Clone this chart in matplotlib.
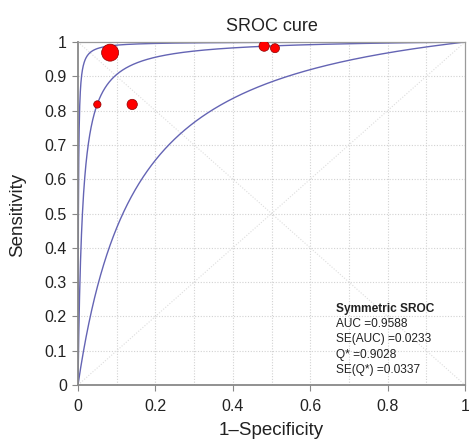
import numpy as np
import matplotlib
matplotlib.use("Agg")
import matplotlib.pyplot as plt

plt.rcParams['font.family'] = ['Liberation Sans', 'DejaVu Sans']

# Data
study_fpr = [0.083, 0.050, 0.140, 0.481, 0.509]
study_sens = [0.969, 0.818, 0.818, 0.988, 0.982]
study_weight = [150, 28, 55, 55, 42]
curve_a = [4.457, 2.03, 6.885]   # logit-scale intercepts (SROC and bounds)
ticks = [0, 0.1, 0.2, 0.3, 0.4, 0.5, 0.6, 0.7, 0.8, 0.9, 1]
xticks = [0, 0.2, 0.4, 0.6, 0.8, 1]
stats_lines = ["AUC =0.9588", "SE(AUC) =0.0233", "Q* =0.9028", "SE(Q*) =0.0337"]

fig = plt.figure(figsize=(4.69, 4.40), dpi=100)
ax = fig.add_axes([0.1663, 0.125, 0.8252, 0.7795])

# grid
for t in ticks[1:-1]:
    ax.axvline(t, color='#d2d2d2', lw=0.8, ls=(0, (1, 1.5)), zorder=0)
    ax.axhline(t, color='#d2d2d2', lw=0.8, ls=(0, (1, 1.5)), zorder=0)
# diagonals
ax.plot([0, 1], [0, 1], color='#dddddd', lw=0.8, ls=(0, (1, 1.5)), zorder=0)
ax.plot([0, 1], [1, 0], color='#dddddd', lw=0.8, ls=(0, (1, 1.5)), zorder=0)

x = np.linspace(1e-6, 1, 2000)
for a in curve_a:
    y = 1.0 / (1.0 + np.exp(-a) * (1 - x) / x)
    ax.plot(x, y, color='#6464b4', lw=1.0, zorder=2)

ax.scatter(study_fpr, study_sens, s=study_weight, color='#ff0000',
           edgecolor='#8b0000', linewidth=0.5, zorder=3)

ax.set_xlim(0, 1)
ax.set_ylim(0, 1)
ax.set_xticks(xticks)
ax.set_xticklabels(['0', '0.2', '0.4', '0.6', '0.8', '1'])
ax.set_yticks(ticks)
ax.set_yticklabels(['0', '0.1', '0.2', '0.3', '0.4', '0.5', '0.6', '0.7', '0.8', '0.9', '1'])
ax.tick_params(axis='both', labelsize=11.5, colors='#222222', length=4, width=0.8,
               direction='out')
ax.tick_params(axis='x', colors='#888888', labelcolor='#222222', pad=6)
ax.tick_params(axis='y', colors='#888888', labelcolor='#222222', pad=4)
for side in ['top', 'right']:
    ax.spines[side].set_color('#9a9a9a')
    ax.spines[side].set_linewidth(0.9)
for side in ['left', 'bottom']:
    ax.spines[side].set_color('#888888')
    ax.spines[side].set_linewidth(1.3)

fig.text(271.5 / 469, 1 - 31 / 440, 'SROC cure', fontsize=13, color='#222222',
         ha='center', va='baseline')
fig.text(18 / 469, 1 - 214.5 / 440, 'Sensitivity', fontsize=13.5, color='#222222',
         ha='center', va='center', rotation=90)
fig.text(271.5 / 469, 1 - 435 / 440, '1\u2013Specificity', fontsize=13.5,
         color='#222222', ha='center', va='baseline')

fig.text(336 / 469, 1 - 309 / 440, 'Symmetric SROC', fontsize=8.6, fontweight='bold',
         color='#222222', va='center', ha='left')
for i, s in enumerate(stats_lines):
    fig.text(336 / 469, 1 - (323.5 + i * 15.5) / 440, s, fontsize=8.6,
             color='#222222', va='center', ha='left')

fig.savefig('out.png', dpi=100)
